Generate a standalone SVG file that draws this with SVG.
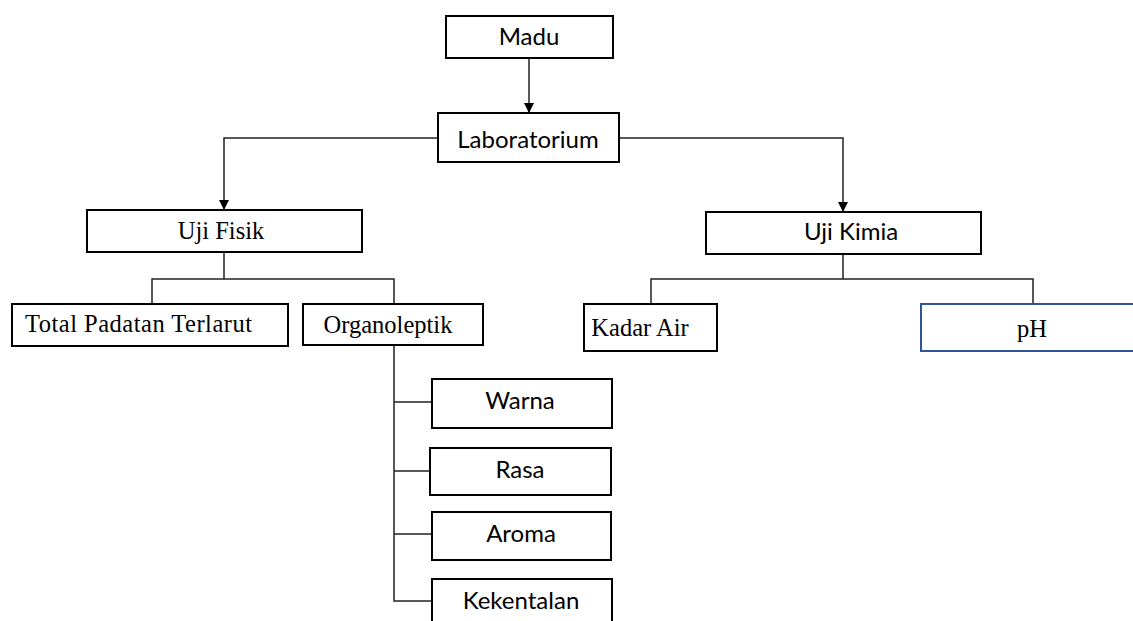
<svg xmlns="http://www.w3.org/2000/svg" width="1133" height="621" viewBox="0 0 1133 621">
<style>
.box{fill:#fff;stroke:#000;stroke-width:2}
.blue{fill:#fff;stroke:#2F5597;stroke-width:2}
.sans{font-family:Lato,"Open Sans","Liberation Sans",sans-serif;font-size:24px;fill:#000}
.serif{font-family:"Liberation Serif","Times New Roman",serif;font-size:24.5px;fill:#000}
.conn{fill:none;stroke:#222;stroke-width:1.5}
</style>
<defs>
<marker id="arr" viewBox="0 0 10 10" refX="10" refY="5" markerWidth="10" markerHeight="10" markerUnits="userSpaceOnUse" orient="auto">
<path d="M0,0 L10,5 L0,10 z" fill="#000"/>
</marker>
</defs>
<rect width="1133" height="621" fill="#fff"/>
<g id="connectors">
<path class="conn" d="M529,58 V113" marker-end="url(#arr)"/>
<path class="conn" d="M438,138 H224 V210" marker-end="url(#arr)"/>
<path class="conn" d="M619,138 H843 V212" marker-end="url(#arr)"/>
<path class="conn" d="M224,252 V279 M152,304 V279 H394 V304"/>
<path class="conn" d="M843,254 V279 M651,304 V279 H1033 V304"/>
<path class="conn" d="M394,346 V601 H432 M394,402 H432 M394,471 H430 M394,534 H432"/>
</g>
<g id="madu"><rect class="box" x="446" y="16" width="167" height="42"/><text class="sans" x="529" y="45" text-anchor="middle">Madu</text></g>
<g id="laboratorium"><rect class="box" x="438" y="113" width="181" height="49"/><text class="sans" x="528" y="148" text-anchor="middle">Laboratorium</text></g>
<g id="uji-fisik"><rect class="box" x="87" y="210" width="275" height="42"/><text class="serif" x="221" y="239" text-anchor="middle">Uji Fisik</text></g>
<g id="uji-kimia"><rect class="box" x="706" y="212" width="275" height="42"/><text class="sans" x="851" y="240" text-anchor="middle">Uji Kimia</text></g>
<g id="total-padatan"><rect class="box" x="12" y="304" width="276" height="42"/><text class="serif" x="25" y="332" textLength="227" lengthAdjust="spacing">Total Padatan Terlarut</text></g>
<g id="organoleptik"><rect class="box" x="303" y="304" width="180" height="41"/><text class="serif" x="388" y="333" text-anchor="middle">Organoleptik</text></g>
<g id="kadar-air"><rect class="box" x="584" y="304" width="133" height="47"/><text class="serif" x="640" y="336" text-anchor="middle">Kadar Air</text></g>
<g id="ph"><rect class="blue" x="921" y="304" width="230" height="47"/><text class="serif" x="1032" y="337" text-anchor="middle">pH</text></g>
<g id="warna"><rect class="box" x="432" y="379" width="180" height="49"/><text class="sans" x="520" y="409" text-anchor="middle">Warna</text></g>
<g id="rasa"><rect class="box" x="430" y="448" width="181" height="47"/><text class="sans" x="520" y="478" text-anchor="middle">Rasa</text></g>
<g id="aroma"><rect class="box" x="432" y="512" width="179" height="48"/><text class="sans" x="521" y="542" text-anchor="middle">Aroma</text></g>
<g id="kekentalan"><rect class="box" x="432" y="579" width="180" height="50"/><text class="sans" x="521" y="609" text-anchor="middle">Kekentalan</text></g>
</svg>
